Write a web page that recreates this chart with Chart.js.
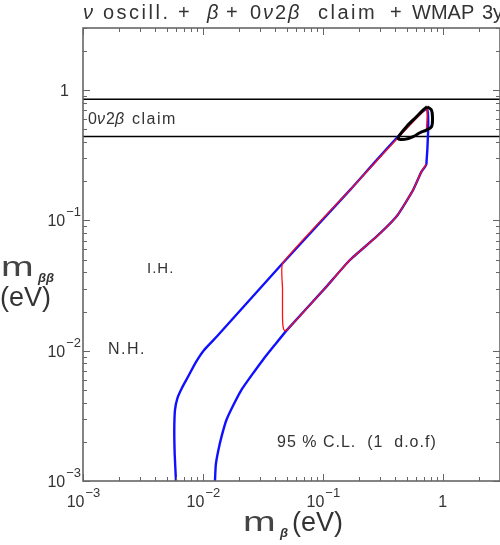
<!DOCTYPE html>
<html>
<head>
<meta charset="utf-8">
<script src="https://cdn.jsdelivr.net/npm/chart.js@4"></script>
<style>
  html, body { margin: 0; padding: 0; background: #fff; overflow: hidden; }
  #wrap { width: 500px; height: 545px; }
</style>
</head>
<body>
<div id="wrap"><canvas id="chart" width="500" height="545"></canvas></div>
<script>
// --- data (eV) ---
// blue contour, upper branch (bottom -> top)
const upperX = [0.00596, 0.00582, 0.00577, 0.00585, 0.00613, 0.00668, 0.00757, 0.00874, 0.0102, 0.0130, 0.0462, 0.168, 0.73];
const upperY = [0.001, 0.00158, 0.00246, 0.00351, 0.00433, 0.00518, 0.0064, 0.00818, 0.0101, 0.0128, 0.0469, 0.171, 0.72];
// blue contour, lower branch (top -> bottom)
const lowerX = [0.73, 0.73, 0.664, 0.565, 0.411, 0.28, 0.168, 0.104, 0.0501, 0.0398, 0.0316, 0.0256, 0.0209, 0.01795, 0.0157, 0.0144, 0.01346, 0.0128, 0.0126];
const lowerY = [0.72, 0.271, 0.237, 0.171, 0.107, 0.075, 0.0497, 0.0301, 0.0144, 0.0111, 0.0085, 0.00652, 0.00499, 0.00383, 0.00294, 0.00225, 0.00173, 0.00133, 0.001];
// red contour: short vertical + diagonal + hook down to the lower branch
const redTopX = [0.73, 0.73, 0.168, 0.0462];
const redTopY = [0.49, 0.72, 0.171, 0.0469];
const hookX = [0.0461, 0.0461, 0.0466, 0.0478];
const hookY = [0.030, 0.018, 0.0153, 0.0143];
// black closed contour (0nu2beta claim + WMAP)
const loopX = [0.740, 0.805, 0.821, 0.805, 0.731, 0.643, 0.566, 0.482, 0.424, 0.498, 0.603, 0.684, 0.740];
const loopY = [0.746, 0.703, 0.607, 0.524, 0.494, 0.471, 0.439, 0.419, 0.427, 0.524, 0.625, 0.703, 0.746];
// 0nu2beta claim band (horizontal lines)
const claimBand = [0.44, 0.85];
// axis ranges and labelled decades
const axisMin = 0.001;
const axisMax = 3;
const decades = [0.001, 0.01, 0.1, 1];
const decadeExp = ["\u22123", "\u22122", "\u22121", ""];

const toPts = (xs, ys) => xs.map((x, i) => ({ x: x, y: ys[i] }));

// blue: upper branch then lower branch (lowerX[0] repeats the top corner)
const bluePts = toPts(upperX, upperY).concat(toPts(lowerX.slice(1), lowerY.slice(1)));
// red: top vertical, diagonal, hook, then lower branch back up to the corner
const redLowerIdx = lowerX.map((x, i) => i).filter((i) => i >= 1 && lowerX[i] >= 0.05).reverse();
const redPts = toPts(redTopX, redTopY)
  .concat(toPts(hookX, hookY))
  .concat(redLowerIdx.map((i) => ({ x: lowerX[i], y: lowerY[i] })));

const FONT = "'Liberation Sans', Arial, sans-serif";
const TXT = "#333";

// draws a run of [text, italic, x] pieces
function drawRun(ctx, pieces, size, y, spacing) {
  pieces.forEach(([t, it, x]) => {
    ctx.font = (it ? "italic " : "") + size + "px " + FONT;
    ctx.letterSpacing = (spacing || 0) + "px";
    ctx.fillText(t, x, y);
  });
  ctx.letterSpacing = "0px";
}

// big "m" with a greek subscript, like ROOT's m_{#beta}
function drawMass(ctx, x, y, sub) {
  ctx.save();
  ctx.fillStyle = "#444";
  ctx.font = "27px " + FONT;
  ctx.translate(x, y);
  ctx.scale(1.45, 1);
  ctx.fillText("m", 0, 0);
  ctx.restore();
  ctx.font = "italic bold 13px " + FONT;
  ctx.fillText(sub, x + 37, y + 6);
}

// --- frame, ticks and texts in ROOT style ---
const rootFrame = {
  id: "rootFrame",
  afterDraw(chart) {
    const { ctx, chartArea: a, scales } = chart;
    const xs = scales.x, ys = scales.y;
    ctx.save();
    ctx.strokeStyle = "#666";
    ctx.lineWidth = 1.6;
    ctx.strokeRect(a.left, a.top, a.right - a.left, a.bottom - a.top);

    // ticks pointing inwards
    ctx.lineWidth = 1;
    ctx.beginPath();
    decades.forEach((d) => {
      for (let m = 1; m <= 9; m++) {
        const v = m * d;
        if (v > axisMax) break;
        const len = m === 1 ? 7 : 4;
        const px = Math.round(xs.getPixelForValue(v)) + 0.5;
        ctx.moveTo(px, a.bottom);
        ctx.lineTo(px, a.bottom - len);
        ctx.moveTo(px, a.top);
        ctx.lineTo(px, a.top + len);
        const py = Math.round(ys.getPixelForValue(v)) + 0.5;
        ctx.moveTo(a.left, py);
        ctx.lineTo(a.left + len, py);
        ctx.moveTo(a.right, py);
        ctx.lineTo(a.right - len, py);
      }
    });
    ctx.stroke();

    // tick labels 10^n
    ctx.fillStyle = TXT;
    ctx.textBaseline = "alphabetic";
    ctx.textAlign = "left";
    const big = "16px " + FONT;
    const sml = "13px " + FONT;
    decades.forEach((d, i) => {
      const e = decadeExp[i];
      const base = e ? "10" : "1";
      ctx.font = big;
      const wb = ctx.measureText(base).width;
      ctx.font = sml;
      const we = e ? ctx.measureText(e).width : 0;
      // x axis
      const px = xs.getPixelForValue(d);
      const x0 = px - (wb + we) / 2;
      ctx.font = big;
      ctx.fillText(base, x0, 507);
      if (e) {
        ctx.font = sml;
        ctx.fillText(e, x0 + wb + 1, 497);
      }
      // y axis
      const py = ys.getPixelForValue(d);
      if (e) {
        ctx.font = big;
        ctx.fillText(base, 81 - we - 1 - wb, py + 6);
        ctx.font = sml;
        ctx.fillText(e, 81 - we, py - 4);
      } else {
        ctx.font = big;
        ctx.fillText(base, 69 - wb, py + 6);
      }
    });

    // title, pieces placed like the reference
    drawRun(ctx, [["\u03bd", true, 83], ["+", false, 178], ["\u03b2", true, 207], ["+", false, 226],
      ["WMAP", false, 412], ["3y", false, 482]], 20, 19, 0);
    drawRun(ctx, [["oscill.", false, 103], ["claim", false, 318]], 20, 19, 2.5);
    drawRun(ctx, [["0", false, 250], ["\u03bd", true, 263], ["2", false, 275], ["\u03b2", true, 288]], 20, 19, 0);
    drawRun(ctx, [["+", false, 390]], 20, 19, 0);

    // axis titles
    drawMass(ctx, 243, 531, "\u03b2");
    ctx.font = "27px " + FONT;
    ctx.fillText("(eV)", 292, 531);
    drawMass(ctx, 1, 276, "\u03b2\u03b2");
    ctx.font = "27px " + FONT;
    ctx.fillText("(eV)", 0, 306);

    // texts inside the frame
    drawRun(ctx, [["0", false, 88], ["\u03bd", true, 97], ["2", false, 106], ["\u03b2", true, 115]], 16, 124, 0);
    drawRun(ctx, [["claim", false, 132]], 16, 124, 1.5);
    drawRun(ctx, [["I.H.", false, 147]], 15, 273, 1);
    drawRun(ctx, [["N.H.", false, 108]], 16, 354, 1.5);
    drawRun(ctx, [["95 % C.L.  (1  d.o.f)", false, 277]], 16, 447, 1);
    ctx.restore();
  },
};

const lineDs = (data, color, width, extra) =>
  Object.assign(
    {
      data: data,
      showLine: true,
      borderColor: color,
      borderWidth: width,
      pointRadius: 0,
      fill: false,
      tension: 0,
    },
    extra || {}
  );

// first dataset is drawn on top
const ctx = document.getElementById("chart").getContext("2d");
new Chart(ctx, {
  type: "scatter",
  data: {
    datasets: [
      lineDs(toPts(loopX, loopY), "#000", 3, { tension: 0.35 }),
      lineDs(redPts, "#ff1010", 1.3, { tension: 0.15 }),
      lineDs(bluePts, "#1010ff", 2.4, { tension: 0.15 }),
      lineDs([{ x: axisMin, y: claimBand[0] }, { x: axisMax, y: claimBand[0] }], "#000", 1.5),
      lineDs([{ x: axisMin, y: claimBand[1] }, { x: axisMax, y: claimBand[1] }], "#000", 1.5),
    ],
  },
  options: {
    responsive: false,
    animation: false,
    events: [],
    layout: { padding: { left: 83, top: 28, right: 0, bottom: 64 } },
    plugins: { legend: { display: false }, tooltip: { enabled: false } },
    scales: {
      x: { type: "logarithmic", min: axisMin, max: axisMax, display: false },
      y: { type: "logarithmic", min: axisMin, max: axisMax, display: false },
    },
  },
  plugins: [rootFrame],
});
</script>
</body>
</html>
